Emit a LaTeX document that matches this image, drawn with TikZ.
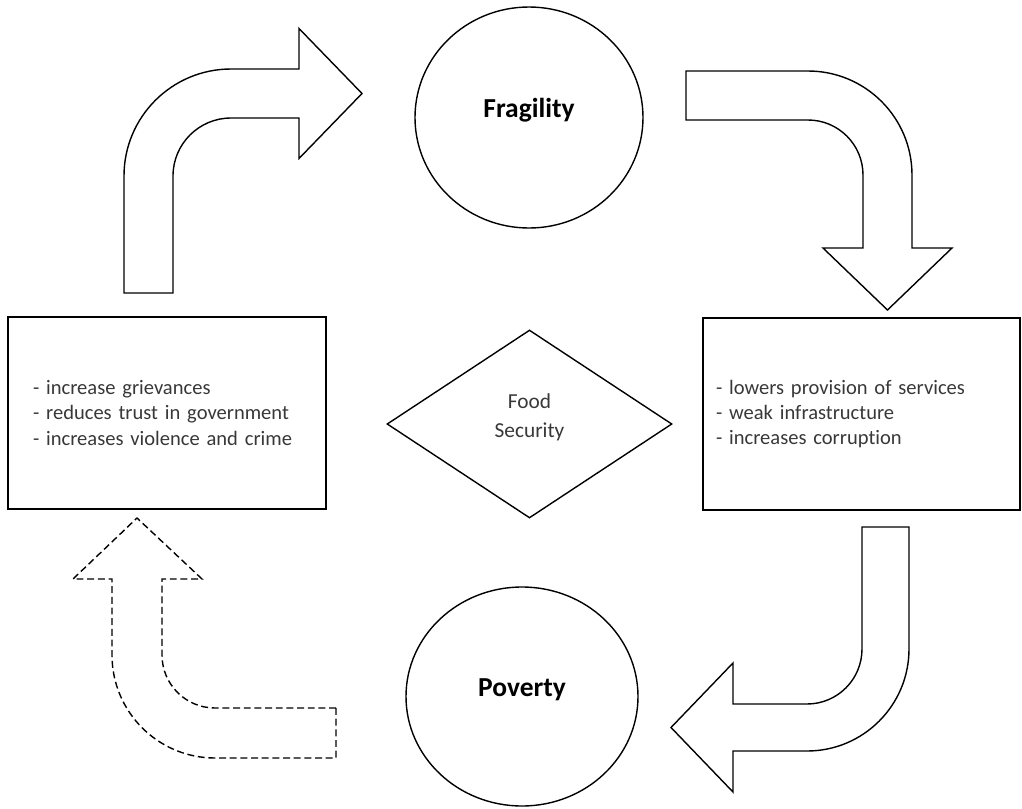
\documentclass[tikz,border=0pt]{standalone}
\usepackage{fontspec}
\setmainfont{Carlito}[Ligatures=NoCommon]
\usetikzlibrary{shapes.geometric}
\begin{document}
\begin{tikzpicture}[x=0.75pt,y=0.75pt,
  outline/.style={draw=black, line width=1.05pt},
  blockarrow/.style={outline, fill=white, line join=miter},
  dashedarrow/.style={blockarrow, dash pattern=on 5.2pt off 2.8pt},
  bubble/.style={outline, ellipse, inner sep=0pt},
  bubbletext/.style={anchor=base, font=\fontsize{20.6}{24}\selectfont\bfseries, text=black},
  listbox/.style={outline, rectangle, align=left, inner ysep=0pt,
    font=\fontsize{15.4}{19.1}\selectfont, text=black!78, minimum height=144pt},
  centre/.style={outline, diamond, inner sep=0pt, minimum width=213.75pt, minimum height=141pt},
  centretext/.style={align=center, font=\fontsize{16}{21.75}\selectfont, text=black!78, inner sep=0pt}
]
\useasboundingbox (0,0) rectangle (1022,-808);

% circles
\node[bubble, minimum width=171pt, minimum height=165.75pt] (frag) at (529,-117.5) {};
\node[bubbletext] (fraglbl) at (frag.center) {Fragility};
\node[bubble, minimum width=174pt, minimum height=164.25pt] (pov) at (522,-696.5) {};
\node[bubbletext] (povlbl) at (pov.center) {Poverty};

% boxes
\node[listbox, inner xsep=18.75pt, text width=201pt] (left) at (167,-413)
  {- increase grievances\\- reduces trust in government\\- increases violence and crime};
\node[listbox, inner xsep=9.75pt, text width=218.25pt] (right) at (861.5,-414)
  {- lowers provision of services\\- weak infrastructure\\- increases corruption};

% diamond
\node[centre] (fs) at (529.5,-424) {};
\node[centretext] (fslbl) at (529.5,-417) {Food\\Security};

% block arrows
\draw[blockarrow] (124,-293) -- (124,-176)
  arc[start angle=180, end angle=90, radius=80.25pt]
  -- (299,-69) -- (299,-28.5) -- (362,-93.5) -- (299,-158.5) -- (299,-118) -- (231,-118)
  arc[start angle=90, end angle=180, radius=43.5pt]
  -- (173,-293) -- cycle;

\draw[blockarrow] (686,-71) -- (808,-71)
  arc[start angle=90, end angle=0, radius=78pt]
  -- (912,-248) -- (952,-248) -- (887.5,-310) -- (823,-248) -- (863,-248) -- (863,-175)
  arc[start angle=0, end angle=90, radius=41.25pt]
  -- (686,-120) -- cycle;

\draw[blockarrow] (862,-527) -- (909,-527) -- (909,-649)
  arc[start angle=0, end angle=-90, radius=76.5pt]
  -- (733,-751) -- (733,-792) -- (671,-727.5) -- (733,-663) -- (733,-704) -- (807,-704)
  arc[start angle=-90, end angle=0, radius=41.25pt]
  -- cycle;

\draw[dashedarrow] (336,-708) -- (336,-758) -- (215,-758)
  arc[start angle=270, end angle=180, radius=77.25pt]
  -- (112,-579) -- (73,-579) -- (137,-518) -- (202,-579) -- (162,-579) -- (162,-655)
  arc[start angle=180, end angle=270, radius=39.75pt]
  -- cycle;
\end{tikzpicture}
\end{document}
